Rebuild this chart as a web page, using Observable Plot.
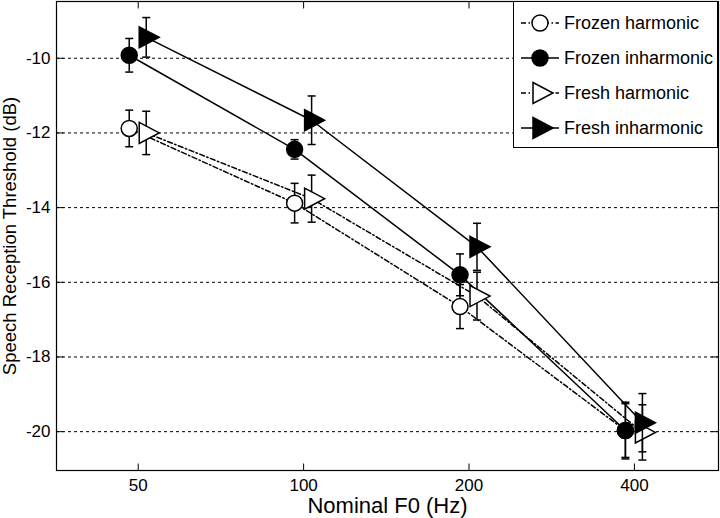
<!DOCTYPE html>
<html><head><meta charset="utf-8">
<script src="https://cdn.jsdelivr.net/npm/d3@7"></script>
<script src="https://cdn.jsdelivr.net/npm/@observablehq/plot@0.6"></script>
<style>
body{margin:0;background:#fff;}
#wrap{position:relative;width:720px;height:518px;font-family:"Liberation Sans",Arial,sans-serif;}
#legend{position:absolute;left:513px;top:1px;width:205px;height:147px;background:#fff;border:1.5px solid #000;box-sizing:border-box;}
#legend svg{display:block;}
</style></head><body><div id="wrap"></div>
<script>
// ---- data ----
const f0 = [50, 100, 200, 400];
const seriesNames = ["Frozen harmonic", "Frozen inharmonic", "Fresh harmonic", "Fresh inharmonic"];
const frozenHarmonic    = [-11.88, -13.88, -16.65, -19.97];
const frozenHarmonicErr = [0.49, 0.53, 0.59, 0.72];
const frozenInharmonic    = [-9.92, -12.44, -15.80, -19.97];
const frozenInharmonicErr = [0.45, 0.26, 0.56, 0.76];
const freshHarmonic    = [-12.00, -13.76, -16.37, -20.02];
const freshHarmonicErr = [0.58, 0.63, 0.64, 0.74];
const freshInharmonic    = [-9.44, -11.66, -15.05, -19.76];
const freshInharmonicErr = [0.53, 0.65, 0.63, 0.78];
const xTicks = [50, 100, 200, 400];
const yTicks = [-20, -18, -16, -14, -12, -10];
const xLabel = "Nominal F0 (Hz)";
const yLabel = "Speech Reception Threshold (dB)";

// ---- styles ----
const xDomain = [35.5, 569];
const yDomain = [-21.04, -8.48];
const dashDot = "5,2.5,1.5,2.5";

const circleSym = {draw(ctx, size){const r = Math.sqrt(size/Math.PI); ctx.moveTo(r,0); ctx.arc(0,0,r,0,2*Math.PI);}};
const triSym = {draw(ctx, size){const r = Math.sqrt(size/Math.PI); ctx.moveTo(-0.7*r,-1.05*r); ctx.lineTo(1.3*r,0); ctx.lineTo(-0.7*r,1.05*r); ctx.closePath();}};
const capSym = {draw(ctx, size){const r = Math.sqrt(size/Math.PI); ctx.moveTo(-r,0); ctx.lineTo(r,0);}};
const upTick = {draw(ctx, size){const r = Math.sqrt(size/Math.PI); ctx.moveTo(0,0); ctx.lineTo(0,-r);}};
const downTick = {draw(ctx, size){const r = Math.sqrt(size/Math.PI); ctx.moveTo(0,0); ctx.lineTo(0,r);}};
const rightTick = {draw(ctx, size){const r = Math.sqrt(size/Math.PI); ctx.moveTo(0,0); ctx.lineTo(r,0);}};
const leftTick = {draw(ctx, size){const r = Math.sqrt(size/Math.PI); ctx.moveTo(0,0); ctx.lineTo(-r,0);}};

const styles = [
  {values: frozenHarmonic, errs: frozenHarmonicErr, dx: -9, dash: dashDot, sym: circleSym, r: 8, fill: "white"},
  {values: frozenInharmonic, errs: frozenInharmonicErr, dx: -9, dash: null, sym: circleSym, r: 8, fill: "black"},
  {values: freshHarmonic, errs: freshHarmonicErr, dx: 8, dash: dashDot, sym: triSym, r: 10, fill: "white"},
  {values: freshInharmonic, errs: freshInharmonicErr, dx: 8, dash: null, sym: triSym, r: 10, fill: "black"}
];

const marks = [
  Plot.gridY(yTicks, {stroke: "black", strokeOpacity: 1, strokeWidth: 1, strokeDasharray: "3,3"}),
  Plot.dot(xTicks, {x: d => d, y: yDomain[0], symbol: upTick, r: 7, fill: "none", stroke: "black", strokeWidth: 1}),
  Plot.dot(xTicks, {x: d => d, y: yDomain[1], symbol: downTick, r: 7, fill: "none", stroke: "black", strokeWidth: 1}),
  Plot.dot(yTicks, {y: d => d, x: xDomain[0], symbol: rightTick, r: 7, fill: "none", stroke: "black", strokeWidth: 1}),
  Plot.dot(yTicks, {y: d => d, x: xDomain[1], symbol: leftTick, r: 7, fill: "none", stroke: "black", strokeWidth: 1}),
  Plot.axisX(xTicks, {tickSize: 0, tickPadding: 8, tickFormat: d => String(d), fontSize: 17, label: null}),
  Plot.axisY(yTicks, {tickSize: 0, tickPadding: 6, tickFormat: d => String(d), fontSize: 17, label: null}),
  Plot.text([xLabel], {frameAnchor: "bottom", dy: 35, fontSize: 22, lineAnchor: "middle", textAnchor: "middle", text: d => d}),
  Plot.text([yLabel], {frameAnchor: "left", dx: -46, rotate: -90, fontSize: 18.5, lineAnchor: "middle", textAnchor: "middle", text: d => d})
];

styles.forEach((s, si) => {
  const data = f0.map((f, i) => ({f, v: s.values[i], e: s.errs[i]}));
  marks.push(Plot.line(data, {x: "f", y: "v", dx: s.dx, stroke: "black", strokeWidth: 1.5, strokeDasharray: s.dash || undefined}));
});
styles.forEach((s, si) => {
  const data = f0.map((f, i) => ({f, v: s.values[i], e: s.errs[i]}));
  marks.push(Plot.ruleX(data, {x: "f", y1: d => d.v - d.e, y2: d => d.v + d.e, dx: s.dx, stroke: "black", strokeWidth: 1.5}));
  marks.push(Plot.dot(data, {x: "f", y: d => d.v - d.e, dx: s.dx, symbol: capSym, r: 4, fill: "none", stroke: "black", strokeWidth: 1.5}));
  marks.push(Plot.dot(data, {x: "f", y: d => d.v + d.e, dx: s.dx, symbol: capSym, r: 4, fill: "none", stroke: "black", strokeWidth: 1.5}));
  marks.push(Plot.dot(data, {x: "f", y: "v", dx: s.dx, symbol: s.sym, r: s.r, fill: s.fill, stroke: "black", strokeWidth: 1.5}));
});
marks.push(Plot.frame({stroke: "black", strokeWidth: 1.2}));

const chart = Plot.plot({
  width: 720, height: 518,
  marginLeft: 56, marginRight: 2, marginTop: 1, marginBottom: 48,
  x: {type: "log", domain: xDomain, label: null},
  y: {domain: yDomain, label: null},
  style: {fontFamily: "'Liberation Sans', Arial, sans-serif", fontSize: "16px", background: "white", color: "black", overflow: "visible"},
  marks
});
const wrap = document.getElementById("wrap");
wrap.appendChild(chart);

// ---- legend ----
const leg = document.createElement("div");
leg.id = "legend";
wrap.appendChild(leg);
const svg = d3.select(leg).append("svg").attr("width", 202).attr("height", 144);
const rowsY = [21, 56, 91, 126];
styles.forEach((s, i) => {
  const g = svg.append("g").attr("transform", `translate(0,${rowsY[i]})`);
  g.append("line").attr("x1", 7).attr("x2", 45).attr("y1", 0).attr("y2", 0)
    .attr("stroke", "black").attr("stroke-width", 1.5).attr("stroke-dasharray", s.dash);
  const p = d3.path();
  s.sym.draw(p, s.r * s.r * Math.PI);
  g.append("path").attr("transform", "translate(26,0)").attr("d", p.toString())
    .attr("fill", s.fill).attr("stroke", "black").attr("stroke-width", 1.5);
  g.append("text").attr("x", 50).attr("y", 0).attr("dy", "0.35em")
    .attr("font-size", 18).attr("font-family", "'Liberation Sans', Arial, sans-serif")
    .text(seriesNames[i]);
});
</script>
</body></html>
